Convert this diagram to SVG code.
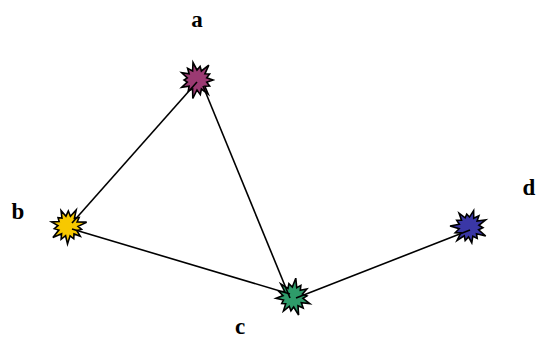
<svg xmlns="http://www.w3.org/2000/svg" width="536" height="339" viewBox="0 0 536 339">
<style>
.edge{stroke:#000;stroke-width:1.6;fill:none}
.star{stroke:#000;stroke-width:1.6;stroke-linejoin:miter}
.lbl{font-family:"Liberation Serif",serif;font-weight:bold;font-size:23px;fill:#000;text-anchor:middle}
</style>
<defs>
<path id="boom" d="M16,0 L9.7,2.2 L12.6,6.1 L7.9,6.2 L11.2,14.1 L4.4,9 L3.3,14.6 L0,10 L-4.2,18.5 L-4.4,9 L-8.7,10.9 L-7.9,6.2 L-15.3,7.4 L-9.7,2.2 L-13,0 L-9.7,-2.2 L-15.3,-7.4 L-7.9,-6.2 L-9.4,-11.7 L-4.4,-9 L-4,-17.5 L0,-10 L3.1,-13.6 L4.4,-9 L11.8,-14.9 L7.9,-6.2 L12.6,-6.1 L9.7,-2.2 Z"/>
</defs>
<rect width="536" height="339" fill="#fff"/>
<g id="node-a"><use href="#boom" class="star" fill="#9b3a72" transform="translate(197,80)"/><text class="lbl" x="197" y="27">a</text></g>
<g id="node-b"><use href="#boom" class="star" fill="#f7c800" transform="translate(68,226) rotate(40)"/><text class="lbl" x="18" y="219">b</text></g>
<g id="node-c"><use href="#boom" class="star" fill="#2e9b6a" transform="translate(293,297) rotate(-30)"/><text class="lbl" x="240" y="334">c</text></g>
<g id="node-d"><use href="#boom" class="star" fill="#3a37a6" transform="translate(469,227) rotate(80)"/><text class="lbl" x="529" y="195">d</text></g>
<g id="edges">
<line class="edge" x1="197" y1="82" x2="72" y2="223"/>
<line class="edge" x1="203" y1="86" x2="290" y2="298"/>
<line class="edge" x1="72" y1="229" x2="290" y2="294"/>
<line class="edge" x1="296" y1="298" x2="470" y2="230"/>
</g>
</svg>
